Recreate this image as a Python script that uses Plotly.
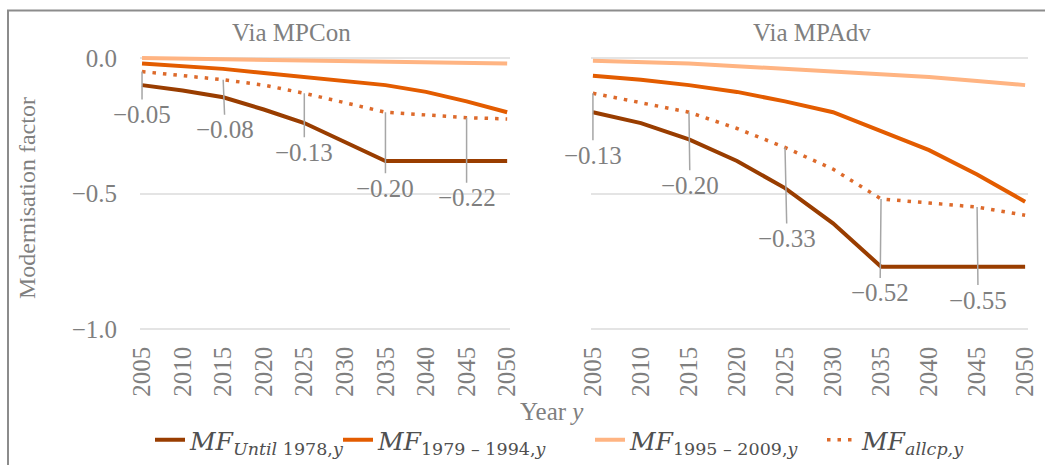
import plotly.graph_objects as go

# ---------------- data ----------------
years = ["2005", "2010", "2015", "2020", "2025", "2030", "2035", "2040", "2045", "2050"]

until1978_con = [-0.10, -0.12, -0.145, -0.19, -0.24, -0.31, -0.38, -0.38, -0.38, -0.38]
c7994_con = [-0.02, -0.03, -0.04, -0.055, -0.07, -0.085, -0.10, -0.125, -0.16, -0.20]
c9509_con = [0.00, -0.002, -0.004, -0.006, -0.008, -0.010, -0.012, -0.014, -0.017, -0.020]
allcp_con = [-0.05, -0.065, -0.08, -0.10, -0.13, -0.165, -0.20, -0.21, -0.22, -0.225]

until1978_adv = [-0.20, -0.24, -0.30, -0.38, -0.48, -0.61, -0.77, -0.77, -0.77, -0.77]
c7994_adv = [-0.065, -0.08, -0.10, -0.125, -0.16, -0.20, -0.27, -0.34, -0.43, -0.53]
c9509_adv = [-0.01, -0.015, -0.02, -0.03, -0.04, -0.05, -0.06, -0.07, -0.085, -0.10]
allcp_adv = [-0.13, -0.165, -0.20, -0.26, -0.33, -0.41, -0.52, -0.535, -0.55, -0.58]

panel_titles = ["Via MPCon", "Via MPAdv"]
y_tick_vals = [-1.0, -0.5, 0.0]
y_tick_text = ["\u22121.0", "\u22120.5", "0.0"]
labelled_idx = [0, 2, 4, 6, 8]

series_names = [
    "<i>MF</i><sub><i>Until</i> 1978,<i>y</i></sub>",
    "<i>MF</i><sub>1979 \u2013 1994,<i>y</i></sub>",
    "<i>MF</i><sub>1995 \u2013 2009,<i>y</i></sub>",
    "<i>MF</i><sub><i>allcp,y</i></sub>",
]

# ---------------- style ----------------
W, H = 1045, 465
SERIF = "Liberation Serif"
GRAY = "#7f7f7f"
colors = ["#993d00", "#e35c00", "#ffb482", "#dd6a2b"]
widths = [4, 4, 4, 3.5]
dashes = ["solid", "solid", "solid", "3.5px,7px"]
legend_ids = ["legend", "legend2", "legend3", "legend4"]
legend_x_px = [150, 338, 590, 822]
# label offsets (pixels below point) for each panel
label_dy = [[43, 50, 59, 76, 80], [62, 73, 91, 94, 93]]
label_dx = [[0, 2, 0, 0, 0], [0, 1, 2, -1, 1]]

idx = list(range(len(years)))


def fx(p):
    return p / W


def fy(p):
    return 1 - p / H


fig = go.Figure()

panels = [
    ([until1978_con, c7994_con, c9509_con, allcp_con], "x", "y"),
    ([until1978_adv, c7994_adv, c9509_adv, allcp_adv], "x2", "y2"),
]

for p, (vals, xa, ya) in enumerate(panels):
    for k, v in enumerate(vals):
        fig.add_trace(go.Scatter(
            x=idx, y=v, mode="lines", name=series_names[k],
            line=dict(color=colors[k], width=widths[k], dash=dashes[k]),
            xaxis=xa, yaxis=ya, showlegend=(p == 0), legend=legend_ids[k],
            hoverinfo="skip",
        ))
    allcp = vals[3]
    for j, i in enumerate(labelled_idx):
        fig.add_annotation(
            x=idx[i], y=allcp[i], xref=xa, yref=ya,
            text="\u2212%.2f" % abs(allcp[i]),
            showarrow=True, arrowhead=0, arrowwidth=1.5, arrowcolor="#a6a6a6",
            ax=label_dx[p][j], ay=label_dy[p][j], standoff=0,
            xanchor="center", yanchor="middle",
            font=dict(family=SERIF, size=25, color=GRAY),
        )

xaxis_common = dict(
    tickvals=idx, ticktext=years, tickangle=-90, showgrid=False, zeroline=False, showline=False,
    ticks="", tickfont=dict(family=SERIF, size=25, color=GRAY), ticklabelstandoff=9,
    automargin=False,
)
yaxis_common = dict(
    range=[-1.01, 0.03], domain=[fy(331.7), fy(49.9)], tickvals=y_tick_vals,
    showgrid=True, gridcolor="#e4e4e4", gridwidth=1.5, zeroline=False, showline=False,
    ticks="", automargin=False,
)

layout_legends = {}
for k, lid in enumerate(legend_ids):
    layout_legends[lid] = dict(
        orientation="h", x=fx(legend_x_px[k]), xanchor="left", y=fy(440), yanchor="middle",
        bgcolor="rgba(0,0,0,0)", font=dict(family="DejaVu Serif", size=25, color="#505050"),
        itemwidth=30,
    )

fig.update_layout(
    width=W, height=H, margin=dict(l=0, r=0, t=0, b=0, autoexpand=False),
    paper_bgcolor="white", plot_bgcolor="white",
    xaxis=dict(domain=[fx(140), fx(510)], range=[-0.05, 9.07], **xaxis_common),
    xaxis2=dict(domain=[fx(591), fx(1028)], range=[-0.04, 9.06], anchor="y2", **xaxis_common),
    yaxis=dict(ticktext=y_tick_text, ticklabelstandoff=22,
               tickfont=dict(family=SERIF, size=25, color=GRAY), **yaxis_common),
    yaxis2=dict(anchor="x2", showticklabels=False, **yaxis_common),
    **layout_legends,
)

# panel titles
for t, xp in zip(panel_titles, [291, 812]):
    fig.add_annotation(x=fx(xp), y=fy(33), xref="paper", yref="paper", text=t,
                       xanchor="center", yanchor="middle",
                       showarrow=False, font=dict(family=SERIF, size=25, color=GRAY))

# axis titles
fig.add_annotation(x=fx(27), y=fy(198), xref="paper", yref="paper", text="Modernisation factor",
                   xanchor="center", yanchor="middle",
                   textangle=-90, showarrow=False, font=dict(family=SERIF, size=24, color=GRAY))
fig.add_annotation(x=fx(552), y=fy(411), xref="paper", yref="paper", text="Year <i>y</i>",
                   xanchor="center", yanchor="middle",
                   showarrow=False, font=dict(family=SERIF, size=25, color=GRAY))

# outer border
fig.add_shape(type="rect", xref="paper", yref="paper", x0=fx(8), y0=-0.1, x1=1.1, y1=fy(10.5),
              line=dict(color="#8c8c8c", width=2), layer="below")

fig.write_html("out.html")
